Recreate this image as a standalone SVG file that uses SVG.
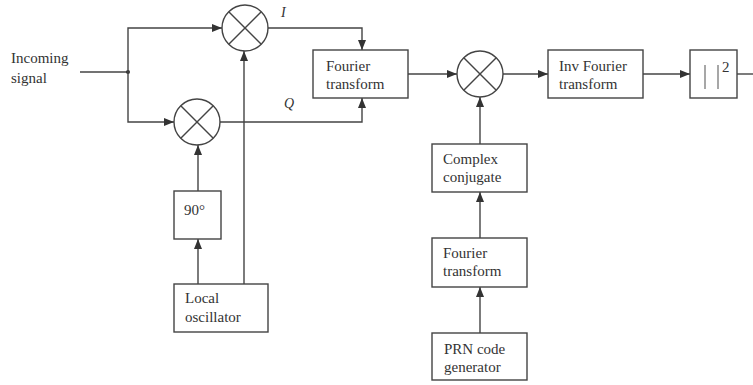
<svg xmlns="http://www.w3.org/2000/svg" width="753" height="385" viewBox="0 0 753 385">
  <style>
    .box { fill: #fff; stroke: #444; stroke-width: 1.4; }
    .mix { fill: #fff; stroke: #444; stroke-width: 1.4; }
    .wire { fill: none; stroke: #444; stroke-width: 1.4; }
    .lbl { font-family: "Liberation Serif", "Times New Roman", serif; font-size: 15px; fill: #333; }
    .sym { font-family: "Liberation Serif", "Times New Roman", serif; font-size: 14px; font-style: italic; fill: #333; }
  </style>
  <defs>
    <marker id="arr" viewBox="0 0 10 8" refX="10" refY="4" markerWidth="10" markerHeight="8" markerUnits="userSpaceOnUse" orient="auto">
      <path d="M0,0 L10,4 L0,8 Z" fill="#333"/>
    </marker>
    <g id="cross">
      <line x1="-16" y1="-16" x2="16" y2="16" stroke="#444" stroke-width="1.4"/>
      <line x1="-16" y1="16" x2="16" y2="-16" stroke="#444" stroke-width="1.4"/>
    </g>
  </defs>
  <rect width="753" height="385" fill="#fff"/>

  <!-- signal flow -->
  <g id="connectors">
    <line class="wire" x1="80" y1="72" x2="128" y2="72"/>
    <circle cx="128" cy="72" r="2" fill="#333"/>
    <polyline class="wire" points="128,72 128,28 222,28" marker-end="url(#arr)"/>
    <polyline class="wire" points="128,72 128,122 174,122" marker-end="url(#arr)"/>
    <polyline class="wire" points="268,28 362,28 362,50" marker-end="url(#arr)"/>
    <polyline class="wire" points="220,122 362,122 362,98" marker-end="url(#arr)"/>
    <line class="wire" x1="198" y1="191" x2="198" y2="145" marker-end="url(#arr)"/>
    <line class="wire" x1="198" y1="284" x2="198" y2="239" marker-end="url(#arr)"/>
    <line class="wire" x1="244" y1="284" x2="244" y2="51" marker-end="url(#arr)"/>
    <line class="wire" x1="408" y1="74" x2="457" y2="74" marker-end="url(#arr)"/>
    <line class="wire" x1="503" y1="74" x2="548" y2="74" marker-end="url(#arr)"/>
    <line class="wire" x1="643" y1="74" x2="690" y2="74" marker-end="url(#arr)"/>
    <line class="wire" x1="737" y1="74" x2="753" y2="74"/>
    <line class="wire" x1="480" y1="144" x2="480" y2="97" marker-end="url(#arr)"/>
    <line class="wire" x1="480" y1="238" x2="480" y2="192" marker-end="url(#arr)"/>
    <line class="wire" x1="480" y1="333" x2="480" y2="287" marker-end="url(#arr)"/>
    <text class="sym" x="281" y="17">I</text>
    <text class="sym" x="284" y="108">Q</text>
  </g>

  <g id="input">
    <text class="lbl" x="11" y="63">Incoming</text>
    <text class="lbl" x="11" y="83">signal</text>
  </g>

  <g id="mixer-i">
    <circle class="mix" cx="245" cy="28" r="23"/>
    <use href="#cross" x="245" y="28"/>
  </g>

  <g id="mixer-q">
    <circle class="mix" cx="197" cy="122" r="23"/>
    <use href="#cross" x="197" y="122"/>
  </g>

  <g id="phase-shift">
    <rect class="box" x="174" y="191" width="47" height="48"/>
    <text class="lbl" x="184" y="215">90°</text>
  </g>

  <g id="local-oscillator">
    <rect class="box" x="174" y="284" width="94" height="48"/>
    <text class="lbl" x="185" y="303">Local</text>
    <text class="lbl" x="185" y="322">oscillator</text>
  </g>

  <g id="fft-signal">
    <rect class="box" x="313" y="50" width="95" height="48"/>
    <text class="lbl" x="326" y="71">Fourier</text>
    <text class="lbl" x="326" y="89">transform</text>
  </g>

  <g id="mixer-corr">
    <circle class="mix" cx="480" cy="74" r="23"/>
    <use href="#cross" x="480" y="74"/>
  </g>

  <g id="ifft">
    <rect class="box" x="548" y="50" width="95" height="48"/>
    <text class="lbl" x="559" y="71">Inv Fourier</text>
    <text class="lbl" x="559" y="89">transform</text>
  </g>

  <g id="magnitude-squared">
    <rect class="box" x="690" y="50" width="47" height="48"/>
    <line x1="705" y1="65" x2="705" y2="89" stroke="#8a8a8a" stroke-width="1.5"/>
    <line x1="718" y1="65" x2="718" y2="89" stroke="#8a8a8a" stroke-width="1.5"/>
    <text class="lbl" x="722" y="72" font-size="12">2</text>
  </g>

  <g id="conjugate">
    <rect class="box" x="432" y="144" width="95" height="48"/>
    <text class="lbl" x="443" y="164">Complex</text>
    <text class="lbl" x="443" y="182">conjugate</text>
  </g>

  <g id="fft-code">
    <rect class="box" x="432" y="238" width="95" height="49"/>
    <text class="lbl" x="443" y="258">Fourier</text>
    <text class="lbl" x="443" y="276">transform</text>
  </g>

  <g id="prn-generator">
    <rect class="box" x="432" y="333" width="95" height="47"/>
    <text class="lbl" x="444" y="354">PRN code</text>
    <text class="lbl" x="444" y="372">generator</text>
  </g>
</svg>
